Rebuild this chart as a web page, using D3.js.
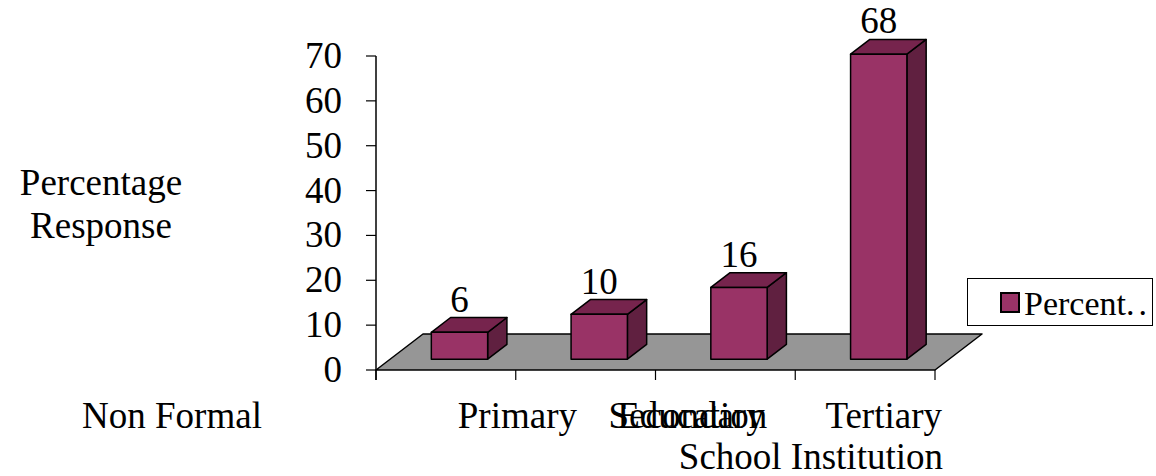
<!DOCTYPE html>
<html>
<head>
<meta charset="utf-8">
<script src="https://cdn.jsdelivr.net/npm/d3@7"></script>
<style>
  html, body { margin: 0; padding: 0; background: #fff; }
  svg { display: block; }
</style>
</head>
<body>
<svg id="chart" width="1156" height="476" font-family="'Liberation Serif', 'Times New Roman', Times, serif"></svg>
<script>
// Survey data: highest level of education of respondents
const categories = ["Non Formal Education", "Primary School", "Secondary School", "Tertiary Institution"];
const percentValues = [6, 10, 16, 68];
const yTicks = [0, 10, 20, 30, 40, 50, 60, 70];
const seriesName = "Percent";
const yTitleLines = ["Percentage", "Response"];

const svg = d3.select("#chart");
const FONT = 37;

// Floor of the 3D plot area
const floorLeft = 376, floorRight = 935, floorFront = 370;
const depth = { dx: 47, dy: -36 };     // full depth vector of the floor
const barFrontF = 0.30, barBackF = 0.71; // bar front/back as fraction of depth

const x = d3.scaleBand().domain(categories).range([floorLeft, floorRight]).paddingInner(0).paddingOuter(0);
const y = d3.scaleLinear().domain([0, 70]).range([floorFront, 56]);

const colors = { front: "#993366", top: "#76244d", side: "#602040", floor: "#969696" };

// floor
const floorPts = [
  [floorLeft, floorFront],
  [floorRight, floorFront],
  [floorRight + depth.dx, floorFront + depth.dy],
  [floorLeft + depth.dx, floorFront + depth.dy]
];
svg.append("polygon")
  .attr("points", floorPts.map(p => p.join(",")).join(" "))
  .attr("fill", colors.floor)
  .attr("stroke", "#000").attr("stroke-width", 1.5).attr("stroke-linejoin", "round");

// value axis
svg.append("line")
  .attr("x1", floorLeft).attr("x2", floorLeft)
  .attr("y1", y(70)).attr("y2", floorFront + 10)
  .attr("stroke", "#000").attr("stroke-width", 1.5);
svg.selectAll(".ytick").data(yTicks).enter().append("line")
  .attr("x1", floorLeft - 10).attr("x2", floorLeft)
  .attr("y1", d => y(d)).attr("y2", d => y(d))
  .attr("stroke", "#000").attr("stroke-width", 1.2);
svg.selectAll(".ylab").data(yTicks).enter().append("text")
  .attr("x", 342).attr("y", d => y(d) + 12)
  .attr("text-anchor", "end").attr("font-size", FONT)
  .text(d => d);

// category axis ticks along the front floor edge
const catTicks = categories.map(c => x(c)).concat([floorRight]);
svg.selectAll(".xtick").data(catTicks).enter().append("line")
  .attr("x1", d => d).attr("x2", d => d)
  .attr("y1", floorFront).attr("y2", floorFront + 10)
  .attr("stroke", "#000").attr("stroke-width", 1.2);

// bars (front face, top face, right side)
const bw = x.bandwidth();
const barL = 0.295, barR = 0.698;
const fx = f => f * depth.dx, fy = f => f * depth.dy;
const base = floorFront + fy(barFrontF);
const scale = floorFront - y(1); // px per unit

const bars = svg.selectAll(".bar").data(categories.map((c, i) => ({ c, v: percentValues[i] })))
  .enter().append("g");

bars.each(function(d) {
  const g = d3.select(this);
  const x0 = x(d.c) + barL * bw + fx(barFrontF);
  const x1 = x(d.c) + barR * bw + fx(barFrontF);
  const yb = base;
  const yt = base - d.v * scale;
  const ddx = fx(barBackF - barFrontF), ddy = fy(barBackF - barFrontF);
  const poly = (pts, fill) => g.append("polygon")
    .attr("points", pts.map(p => p.join(",")).join(" "))
    .attr("fill", fill).attr("stroke", "#000")
    .attr("stroke-width", 1.5).attr("stroke-linejoin", "round");
  poly([[x1, yb], [x1 + ddx, yb + ddy], [x1 + ddx, yt + ddy], [x1, yt]], colors.side);
  poly([[x0, yt], [x1, yt], [x1 + ddx, yt + ddy], [x0 + ddx, yt + ddy]], colors.top);
  poly([[x0, yb], [x1, yb], [x1, yt], [x0, yt]], colors.front);
  g.append("text")
    .attr("x", (x0 + x1) / 2).attr("y", yt + ddy - 6)
    .attr("text-anchor", "middle").attr("font-size", FONT)
    .text(d.v);
});

// value axis title
svg.selectAll(".ytitle").data(yTitleLines).enter().append("text")
  .attr("x", 101).attr("y", (d, i) => 195 + i * 43)
  .attr("text-anchor", "middle").attr("font-size", FONT)
  .text(d => d);

// category labels (wrapped words as laid out under the floor)
const line1 = 428, line2 = 469;
const catLabelLayout = [
  { t: "Non Formal", x: 172, y: line1, a: "middle" },
  { t: "Primary", x: x(categories[1]) - 58, y: line1, a: "start" },
  { t: "Secondary", x: x(categories[2]) - 47, y: line1, a: "start" },
  { t: "Education", x: x(categories[3]) - 28, y: line1, a: "end" },
  { t: "Tertiary", x: floorRight + 7, y: line1, a: "end" },
  { t: "School Institution", x: floorRight + 8, y: line2, a: "end" }
];
svg.selectAll(".xlab").data(catLabelLayout).enter().append("text")
  .attr("x", d => d.x).attr("y", d => d.y)
  .attr("text-anchor", d => d.a).attr("font-size", FONT)
  .text(d => d.t);

// legend
const lg = svg.append("g");
lg.append("rect").attr("x", 967.5).attr("y", 278.5).attr("width", 185).attr("height", 47)
  .attr("fill", "#fff").attr("stroke", "#000").attr("stroke-width", 1);
lg.append("rect").attr("x", 1001).attr("y", 293).attr("width", 18).attr("height", 19)
  .attr("fill", colors.front).attr("stroke", "#000").attr("stroke-width", 2);
const lt = lg.append("text").attr("x", 1024).attr("y", 315).attr("font-size", 34);
lt.append("tspan").text(seriesName + ".");
lt.append("tspan").attr("dx", 4).text(".");
</script>
</body>
</html>
